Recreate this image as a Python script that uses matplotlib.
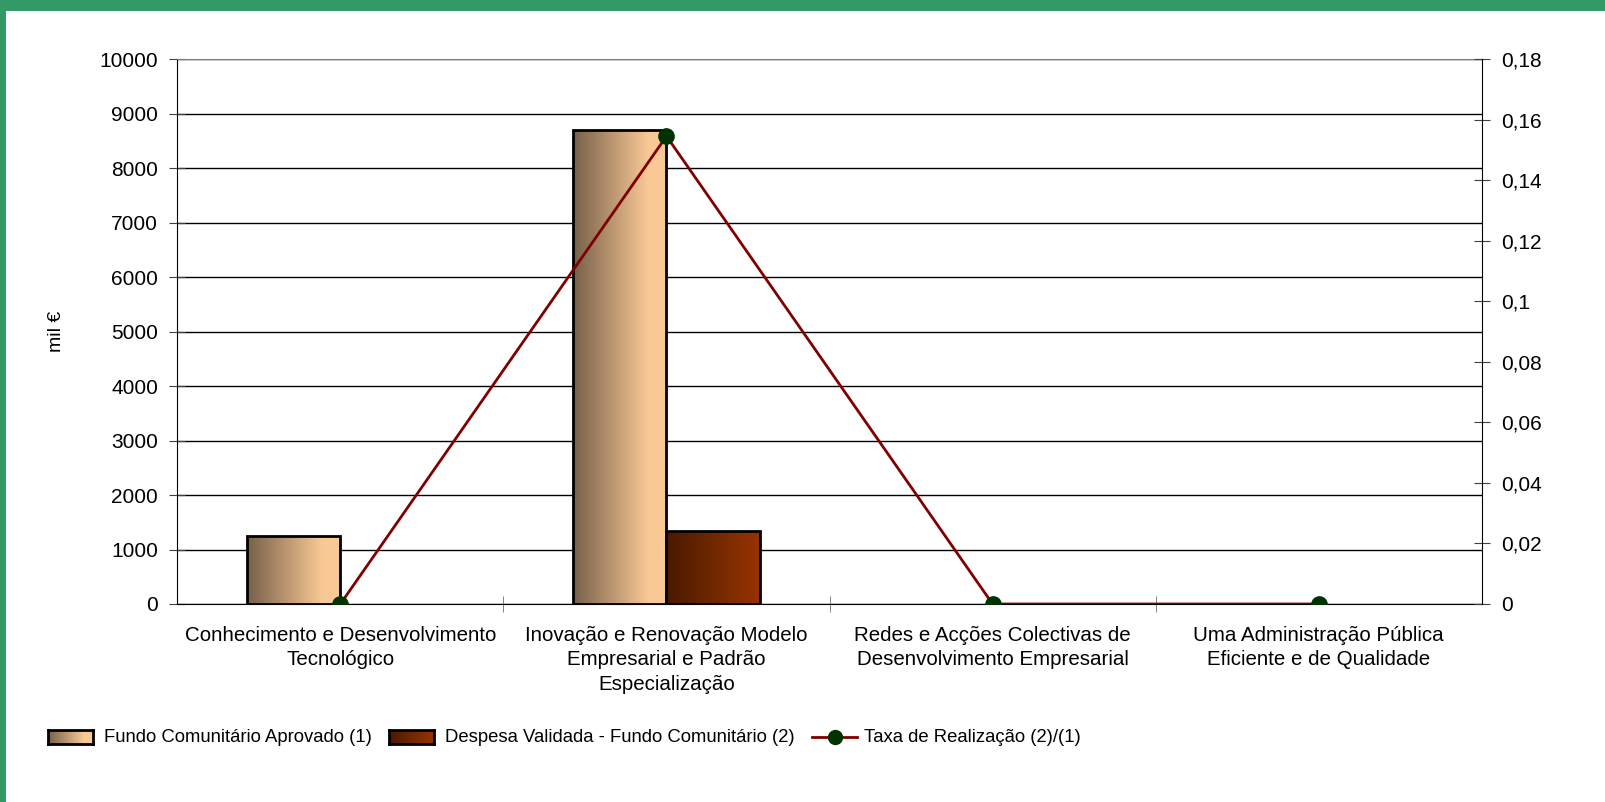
import numpy as np
import matplotlib.pyplot as plt
from matplotlib.colors import LinearSegmentedColormap
from matplotlib.patches import Rectangle

plt.rcParams['font.family'] = ['Liberation Sans', 'DejaVu Sans']

categories = ['Conhecimento e Desenvolvimento\nTecnológico',
              'Inovação e Renovação Modelo\nEmpresarial e Padrão\nEspecialização',
              'Redes e Acções Colectivas de\nDesenvolvimento Empresarial',
              'Uma Administração Pública\nEficiente e de Qualidade']
fundo_aprovado = [1250, 8700, 0, 0]
despesa_validada = [0, 1345, 0, 0]
taxa_realizacao = [0, 0.1546, 0, 0]
left_ticks = list(range(0, 10001, 1000))
right_ticks = [0, 0.02, 0.04, 0.06, 0.08, 0.1, 0.12, 0.14, 0.16, 0.18]
right_labels = ['0', '0,02', '0,04', '0,06', '0,08', '0,1', '0,12', '0,14', '0,16', '0,18']
legend_labels = ['Fundo Comunitário Aprovado (1)',
                 'Despesa Validada - Fundo Comunitário (2)',
                 'Taxa de Realização (2)/(1)']

light_cmap = LinearSegmentedColormap.from_list(
    'light', [(0, '#76604a'), (0.45, '#c09a74'), (0.8, '#f9c995'), (1, '#f9c995')])
dark_cmap = LinearSegmentedColormap.from_list(
    'dark', [(0, '#4a1800'), (0.5, '#702800'), (1, '#993300')])
grad = np.linspace(0, 1, 256).reshape(1, -1)

fig = plt.figure(figsize=(16.05, 8.02), dpi=100)
fig.patches.append(Rectangle((0, 0), 1, 1, transform=fig.transFigure,
                             facecolor='#339966', edgecolor='none', zorder=-10))
fig.patches.append(Rectangle((6 / 1605, 0), 1, 1 - 11 / 802, transform=fig.transFigure,
                             facecolor='white', edgecolor='none', zorder=-9))

ax = fig.add_axes([0.1105, 0.2469, 0.8127, 0.6791])
x = np.arange(len(categories))
w = 1 / 3.5

def gradient_bars(bars, cmap):
    for b in bars:
        if b.get_height() <= 0:
            b.set_linewidth(0)
            continue
        im = ax.imshow(grad, cmap=cmap, aspect='auto', zorder=2,
                       extent=[b.get_x(), b.get_x() + b.get_width(), 0, b.get_height()])
        im.set_clip_path(b)

b1 = ax.bar(x - w / 2, fundo_aprovado, w, facecolor='none', edgecolor='black', linewidth=2, zorder=3)
b2 = ax.bar(x + w / 2, despesa_validada, w, facecolor='none', edgecolor='black', linewidth=2, zorder=3)
gradient_bars(b1, light_cmap)
gradient_bars(b2, dark_cmap)

ax.set_xlim(-0.5, len(categories) - 0.5)
ax.set_ylim(0, 10000)
ax.set_yticks(left_ticks)
ax.yaxis.grid(True, color='black', linewidth=1)
ax.set_axisbelow(True)
ax.tick_params(axis='y', direction='inout', length=12, labelsize=15, pad=8, color='#404040')
ax.set_xticks(x)
ax.set_xticklabels(categories, fontsize=14.8, linespacing=1.35)
ax.tick_params(axis='x', length=0, pad=16)
ax.set_xticks(np.arange(0.5, len(categories) - 1, 1), minor=True)
ax.tick_params(axis='x', which='minor', direction='inout', length=12, color='#707070')
ax.spines['top'].set_color('#808080')
ax.spines['right'].set_visible(False)
ax.set_ylabel('mil €', fontsize=14, labelpad=25)

ax2 = ax.twinx()
ax2.plot(x, taxa_realizacao, color='#800000', linewidth=2, marker='o', markersize=11,
         markerfacecolor='#003300', markeredgecolor='#003300', zorder=4)
ax2.set_ylim(0, 0.18)
ax2.set_yticks(right_ticks)
ax2.set_yticklabels(right_labels)
ax2.tick_params(axis='y', direction='inout', length=12, labelsize=15, pad=8, color='#404040')
for s in ['top', 'left', 'bottom']:
    ax2.spines[s].set_visible(False)

# legend
ly = 1 - 737 / 802
sw, sh = 45 / 1605, 14 / 802
for x0, cmap in [(48 / 1605, light_cmap), (389 / 1605, dark_cmap)]:
    lax = fig.add_axes([x0, ly - sh / 2, sw, sh])
    lax.imshow(grad, cmap=cmap, aspect='auto')
    lax.set_xticks([])
    lax.set_yticks([])
    for s in lax.spines.values():
        s.set_linewidth(2)
fig.add_artist(plt.Line2D([812 / 1605, 857 / 1605], [ly, ly], color='#800000', linewidth=2))
fig.add_artist(plt.Line2D([834.5 / 1605], [ly], marker='o', markersize=10,
                          color='#003300', linestyle='none'))
for x0, lab in zip([104, 445, 864], legend_labels):
    fig.text(x0 / 1605, ly, lab, fontsize=13.3, va='center', ha='left')

fig.savefig('out.png', dpi=100)
